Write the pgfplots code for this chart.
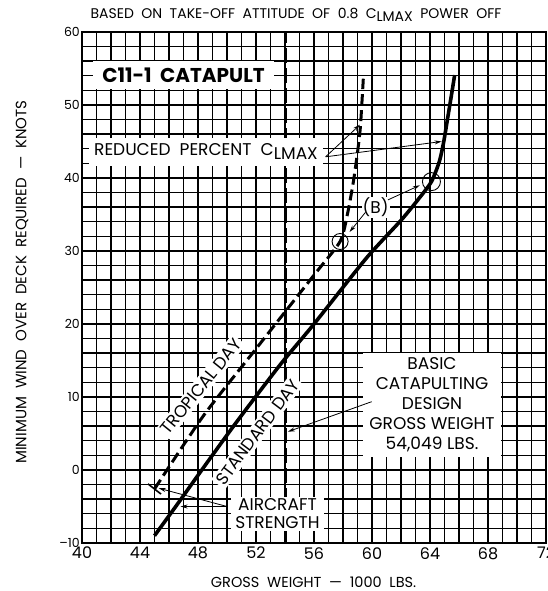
\documentclass[border=0pt]{standalone}
\usepackage{fontspec}
\setmainfont{Poppins}
\usepackage{pgfplots}
\pgfplotsset{compat=1.18}
\usetikzlibrary{arrows.meta}
\newcommand{\fs}[1]{\fontsize{#1}{#1}\selectfont}
\newcommand{\clmax}{C\raisebox{-0.4ex}{LMAX}}

\pgfplotstableread{
x y
45.0 -9.0
46.5 -4.9
48.26 0.0
50.67 6.6
53.66 14.4
56.0 20.0
59.6 29.0
62.0 34.2
63.2 37.1
64.1 39.5
64.65 42.3
64.95 45.0
65.2 48.0
65.45 51.0
65.7 54.1
}\standard

\pgfplotstableread{
x y
45.0 -2.6
48.4 7.5
52.0 16.6
56.0 26.7
57.8 31.3
58.3 35.0
58.7 39.3
59.0 43.5
59.2 47.0
59.4 53.6
}\tropical

\begin{document}
\begin{tikzpicture}[x=1pt,y=1pt]
\begin{axis}[
  at={(82pt,48pt)}, anchor=south west,
  width=464pt, height=511pt, scale only axis,
  xmin=40, xmax=72, ymin=-10, ymax=60,
  xtick={40,44,...,72}, ytick={-10,0,...,60},
  yticklabels={--10,0,10,20,30,40,50,60},
  minor xtick={41,...,71}, minor ytick={-8,-6,...,58},
  grid=both,
  major grid style={black, line width=2.3pt},
  minor grid style={black, line width=1.4pt},
  axis line style={black, line width=2.6pt},
  major tick length=0pt, minor tick length=0pt,
  xticklabel style={font=\fs{16}, inner sep=1pt, yshift=-3pt},
  yticklabel style={font=\fs{12.5}, inner sep=2pt},
  /pgf/number format/assume math mode=true,
  clip=false,
]
% basic design gross weight line
\addplot[black, line width=3pt, dash pattern=on 15pt off 5pt] coordinates {(54.049,-10) (54.049,60)};
% standard day
\addplot[black, line width=3.6pt, smooth, tension=0.4] table[x=x,y=y] {\standard};
% tropical day
\addplot[black, line width=3pt, dash pattern=on 11pt off 5pt, smooth, tension=0.4] table[x=x,y=y] {\tropical};

% bar at start of tropical line
\draw[black, line width=1.6pt] (axis cs:44.55,-1.9) -- (axis cs:45.45,-3.3);

% circles (B)
\draw[black, line width=0.9pt] (axis cs:57.8,31.3) circle[radius=8pt];
\draw[black, line width=0.9pt] (axis cs:64.1,39.5) circle[radius=9pt];

% labels
\node[fill=white, inner xsep=9pt, inner ysep=7pt, font=\fs{20}\bfseries] at (axis cs:47.0,54.1) {C11-1\ \ CATAPULT};
\node[fill=white, inner xsep=5pt, inner ysep=6pt, font=\fs{17}] at (axis cs:48.55,43.6) {REDUCED\ \ PERCENT\ \ \clmax};
\draw[-{Stealth[length=7pt,width=4pt]}, line width=0.8pt] (axis cs:56.8,42.9) -- (axis cs:59.17,47.3);
\draw[-{Stealth[length=7pt,width=4pt]}, line width=0.8pt] (axis cs:56.8,42.9) -- (axis cs:64.8,45.0);

\node[fill=white, inner sep=1pt, font=\fs{17}] at (axis cs:60.25,36.0) {(B)};
\draw[-{Stealth[length=7pt,width=4pt]}, line width=0.8pt] (axis cs:59.55,35.3) -- (axis cs:58.45,32.6);
\draw[-{Stealth[length=7pt,width=4pt]}, line width=0.8pt] (axis cs:61.1,37.0) -- (axis cs:63.3,39.0);

\node[fill=white, inner sep=2.5pt, font=\fs{17}, rotate=51] at (axis cs:48.2,11.4) {TROPICAL DAY};
\node[fill=white, inner sep=2.5pt, font=\fs{17}, rotate=53] at (axis cs:52.1,5.2) {STANDARD DAY};

\node[fill=white, align=center, inner xsep=6pt, inner ysep=5pt, font=\fs{17}] at (axis cs:64.14,8.9)
  {\fs{17}BASIC\\[3pt] CATAPULTING\\[3pt] DESIGN\\[3pt] GROSS WEIGHT\\[3pt] 54,049 LBS.};
\draw[-{Stealth[length=7pt,width=4pt]}, line width=0.8pt] (axis cs:59.98,9.36) -- (axis cs:54.2,5.25);

\node[fill=white, align=center, inner xsep=4pt, inner ysep=2pt, font=\fs{17}] at (axis cs:53.48,-6.0)
  {\fs{17}AIRCRAFT\\[1pt] STRENGTH};
\draw[-{Stealth[length=7pt,width=4pt]}, line width=0.8pt] (axis cs:50.0,-5.0) -- (axis cs:45.3,-2.5);
\draw[-{Stealth[length=7pt,width=4pt]}, line width=0.8pt] (axis cs:50.0,-5.0) -- (axis cs:46.8,-5.0);

% titles
\node[font=\fs{14}] at (axis cs:54.76,62.33) {BASED\ \ ON\ \ TAKE-OFF\ \ ATTITUDE\ \ OF\ \ 0.8\ \ \clmax\ \ POWER\ \ OFF};
\node[font=\fs{14.5}] at (axis cs:55.97,-15.34) {GROSS\ \ WEIGHT\ \ ---\ \ 1000\ \ LBS.};
\node[font=\fs{15}, rotate=90] at (axis cs:35.86,25.75) {MINIMUM\ \ WIND\ \ OVER\ \ DECK\ \ REQUIRED\ \ ---\ \ KNOTS};
\end{axis}
\pgfresetboundingbox
\path[use as bounding box] (0,0) rectangle (547,591);
\end{tikzpicture}
\end{document}
